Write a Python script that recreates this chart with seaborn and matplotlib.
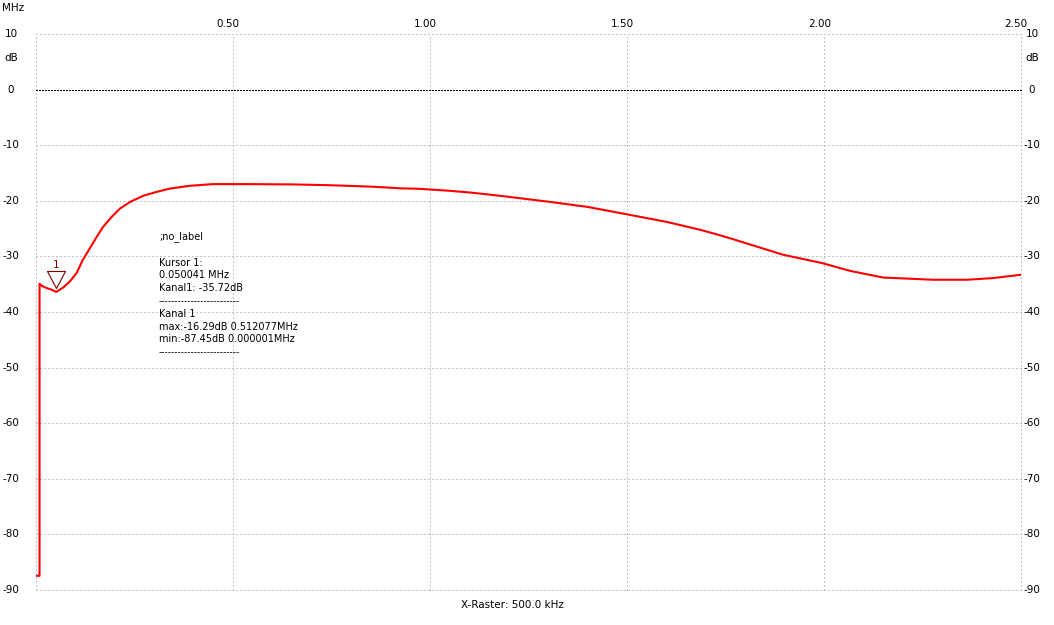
import matplotlib
matplotlib.use("Agg")
import matplotlib.pyplot as plt
import seaborn as sns
import pandas as pd

# Messkurve Kanal 1
freq_mhz = [0.000, 0.009, 0.009, 0.015, 0.027, 0.040, 0.051, 0.060, 0.069, 0.086,
            0.103, 0.119, 0.137, 0.154, 0.170, 0.192, 0.213, 0.239, 0.272, 0.306,
            0.340, 0.391, 0.449, 0.535, 0.650, 0.746, 0.850, 0.924, 0.975, 1.050,
            1.100, 1.178, 1.305, 1.400, 1.490, 1.601, 1.685, 1.731, 1.769, 1.896,
            1.995, 2.066, 2.150, 2.277, 2.363, 2.429, 2.500]
level_db = [-87.45, -87.45, -34.9, -35.3, -35.7, -36.0, -36.4, -36.0, -35.6, -34.5,
            -33.0, -30.6, -28.5, -26.5, -24.7, -22.9, -21.4, -20.2, -19.1, -18.4,
            -17.8, -17.3, -17.0, -17.0, -17.05, -17.2, -17.45, -17.75, -17.85, -18.2,
            -18.5, -19.1, -20.2, -21.1, -22.3, -23.8, -25.2, -26.1, -26.9, -29.7,
            -31.2, -32.6, -33.8, -34.2, -34.2, -33.9, -33.3]

x_ticks = [0.0, 0.5, 1.0, 1.5, 2.0, 2.5]
x_tick_labels = ["", "0.50", "1.00", "1.50", "2.00", "2.50"]
y_ticks = [10, 0, -10, -20, -30, -40, -50, -60, -70, -80, -90]

cursor_f = 0.050041
cursor_db = -35.72
info_lines = [";no_label", "", "Kursor 1:", "0.050041 MHz", "Kanal1: -35.72dB",
              "-" * 25, "Kanal 1", "max:-16.29dB 0.512077MHz",
              "min:-87.45dB 0.000001MHz", "-" * 25]

df = pd.DataFrame({"f": freq_mhz, "db": level_db})

sns.set_style("white")
plt.rcParams["font.family"] = ["DejaVu Sans"]
plt.rcParams["text.color"] = "black"
fs = 7.5
grid_col = "#c4c4c4"

fig = plt.figure(figsize=(10.54, 6.25), dpi=100)
ax = fig.add_axes([36 / 1054, 35 / 625, 985 / 1054, 556 / 625])
ax.set_xlim(0, 2.5)
ax.set_ylim(-90, 10)
for s in ax.spines.values():
    s.set_visible(False)
ax.set_xticks([])
ax.set_yticks([])

# Raster
for xv in x_ticks:
    ax.axvline(xv, color=grid_col, lw=0.75, ls=(0, (1, 2)), clip_on=False,
               antialiased=False, zorder=1)
for yv in y_ticks:
    if yv == 0:
        ax.axhline(yv, color="black", lw=0.75, ls=(0, (1, 1)), clip_on=False,
                   antialiased=False, zorder=1)
    else:
        ax.axhline(yv, color=grid_col, lw=0.75, ls=(0, (1, 2)), clip_on=False,
                   antialiased=False, zorder=1)

sns.lineplot(data=df, x="f", y="db", ax=ax, color="#ff0000", lw=1.5,
             estimator=None, sort=False, legend=False, zorder=3)
ax.set_xlabel("")
ax.set_ylabel("")

# Achsenbeschriftung
ytr = ax.get_yaxis_transform()
for yv in y_ticks:
    ax.text(-0.0254, yv, str(yv), transform=ytr, ha="center", va="center", fontsize=fs)
    ax.text(1.0112, yv, str(yv), transform=ytr, ha="center", va="center", fontsize=fs)
ax.text(-0.0254, 5.7, "dB", transform=ytr, ha="center", va="center", fontsize=fs)
ax.text(1.0112, 5.7, "dB", transform=ytr, ha="center", va="center", fontsize=fs)

xtr = ax.get_xaxis_transform()
for xv, lab in zip(x_ticks, x_tick_labels):
    ax.text(xv - 0.012, 1.018, lab, transform=xtr, ha="center", va="center", fontsize=fs)
fig.text(2 / 1054, 1 - 8 / 625, "MHz", ha="left", va="center", fontsize=fs)
fig.text(512 / 1054, 1 - 605 / 625, "X-Raster: 500.0 kHz", ha="center", va="center", fontsize=fs)

# Cursor-Markierung
ax.plot([cursor_f], [cursor_db], marker=[(-9, 17), (9, 17), (0, 0), (-9, 17)],
        markersize=24.5, markerfacecolor="none", markeredgecolor="#800000",
        markeredgewidth=0.8, zorder=4)
ax.annotate("1", (cursor_f, cursor_db), xytext=(0, 16.5), textcoords="offset points",
            ha="center", va="center", fontsize=fs, color="#800000")

# Infotext
for i, line in enumerate(info_lines):
    if line:
        fig.text(159 / 1054, 1 - (237 + 12.8 * i) / 625, line, ha="left", va="center",
                 fontsize=7, family=["Liberation Sans"] if line.startswith("--") else None)

fig.savefig("out.png", dpi=100)
